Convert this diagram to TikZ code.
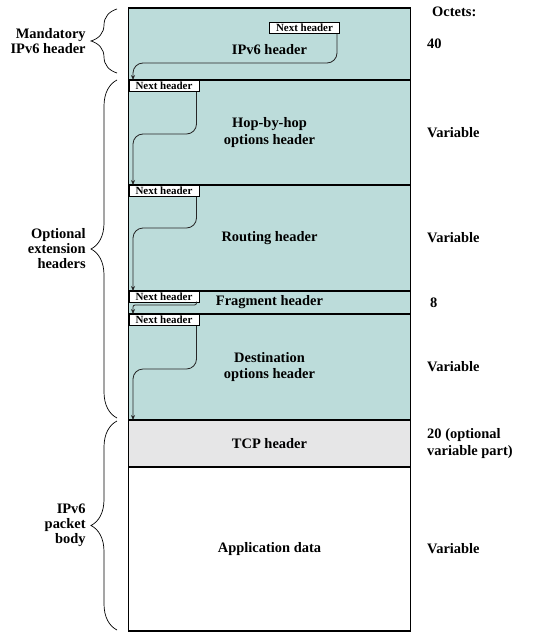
\documentclass[tikz,border=0pt]{standalone}
\usepackage{fontspec}
\setmainfont{Liberation Serif}
\usetikzlibrary{positioning,arrows.meta,decorations.pathreplacing}

\definecolor{hdrfill}{HTML}{BCDCDA}
\definecolor{tcpfill}{HTML}{E6E6E7}

\tikzset{
        sect/.style={draw=black, line width=1.2bp, minimum width=282bp, inner sep=0pt, outer sep=0pt,
                align=center, font=\bfseries\fontsize{14.5}{17}\selectfont},
        nxthdr/.style={draw=black, fill=white, line width=1bp, minimum width=70bp, minimum height=11bp,
                inner sep=0pt, anchor=north west, font=\bfseries\fontsize{11}{11}\selectfont},
        nxt/.style={draw=black!85, line width=0.8bp, -{Stealth[length=5bp,width=4bp]}},
        grp/.style={decorate, decoration={brace, amplitude=26bp, mirror}, line width=0.7bp},
        grplbl/.style={inner sep=0pt, align=right, font=\bfseries\fontsize{14.5}{15}\selectfont},
        size/.style={inner sep=0pt, anchor=west, align=left, font=\bfseries\fontsize{14.5}{17}\selectfont}
}

\begin{document}
\begin{tikzpicture}[x=1bp, y=-1bp, node distance=0pt]

        \useasboundingbox (0,0) rectangle (536,635);

        \node[sect, fill=hdrfill, minimum height=72bp, anchor=north west] (ipv6) at (128.5,8)
                {\raisebox{-6bp}[\height][\depth]{IPv6 header}};
        \node[sect, fill=hdrfill, minimum height=105bp, below=of ipv6] (hop) {Hop-by-hop\\options header};
        \node[sect, fill=hdrfill, minimum height=106bp, below=of hop] (rout) {Routing header};
        \node[sect, fill=hdrfill, minimum height=23bp, below=of rout] (frag) {Fragment header};
        \node[sect, fill=hdrfill, minimum height=106bp, below=of frag] (dest) {Destination\\options header};
        \node[sect, fill=tcpfill, minimum height=47bp, below=of dest] (tcp) {TCP header};
        \node[sect, fill=white, minimum height=164bp, below=of tcp] (app) {Application data};

        \node[nxthdr, anchor=north east] (nh0) at ([xshift=-70.5bp, yshift=-14bp]ipv6.north east) {Next header};
        \foreach \s/\n in {hop/nh1, rout/nh2, frag/nh3, dest/nh4}
        {
                \node[nxthdr] (\n) at (\s.north west) {Next header};
        }

        \foreach \a/\b/\d/\r in {nh0/nh1/29/10, nh1/nh2/42/10, nh2/nh3/31/10, nh3/nh4/2/2, nh4/tcp/43/10}
        {
                \draw[nxt, rounded corners=\r bp] ([xshift=-3bp]\a.south east) -- ++(0,\d) -| ([xshift=4.5bp]\b.north west);
        }

        \draw[grp] (117,9) -- (117,73) node[grplbl, midway, left=31bp] (mand) {Mandatory\\IPv6 header};
        \draw[grp] (117,80) -- (117,418) node[grplbl, midway, left=31bp] (opt) {Optional\\extension\\headers};
        \draw[grp] (117,421) -- (117,630) node[grplbl, midway, left=31bp] (body) {IPv6\\packet\\body};

        \node[size] (octets) at ([xshift=21.5bp, yshift=-4bp]ipv6.north east) {Octets:};
        \node[size] (s0) at ([xshift=16.5bp]ipv6.east) {40};
        \node[size] (s1) at ([xshift=16.5bp]hop.east) {Variable};
        \node[size] (s2) at ([xshift=16.5bp]rout.east) {Variable};
        \node[size] (s3) at ([xshift=19.5bp]frag.east) {8};
        \node[size] (s4) at ([xshift=16.5bp]dest.east) {Variable};
        \node[size] (s5) at ([xshift=16.5bp]tcp.east) {20 (optional\\variable part)};
        \node[size] (s6) at ([xshift=16.5bp]app.east) {Variable};

\end{tikzpicture}
\end{document}
